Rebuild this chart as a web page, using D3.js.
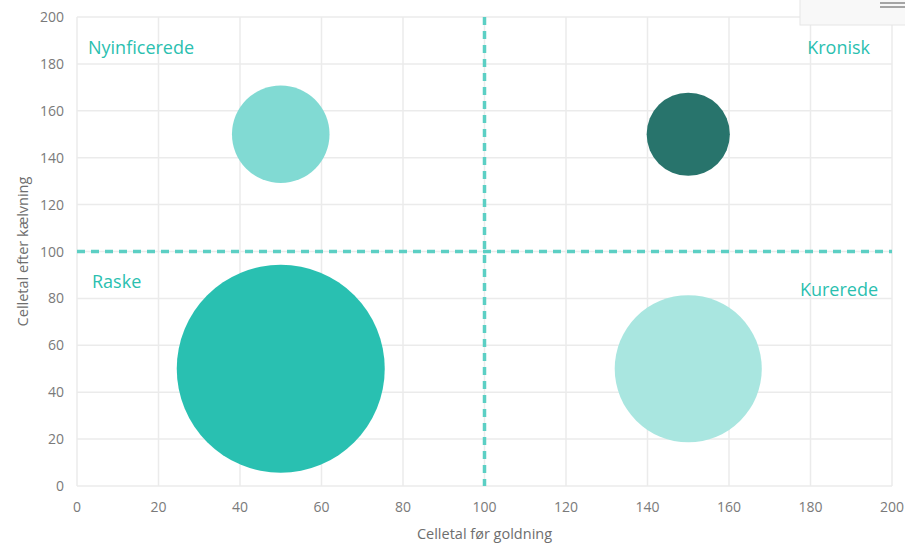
<!DOCTYPE html>
<html>
<head>
<meta charset="utf-8">
<script src="https://cdn.jsdelivr.net/npm/d3@7"></script>
<style>
  body { margin: 0; background: #fff; }
  text { font-family: "Open Sans", "Noto Sans", sans-serif; }
  .tick_labels { fill: #7a7a7a; font-size: 14px; }
  .axis_titles { fill: #6e6e6e; font-size: 14.5px; }
  .quad_labels { fill: #2bbfb0; font-size: 18px; }
</style>
</head>
<body>
<svg id="svg-bubbles" width="905" height="546"></svg>
<script>
var names = ["Nyinficerede", "Kronisk", "Raske", "Kurerede"];
var xValues = [50, 150, 50, 150];
var yValues = [150, 150, 50, 50];
var sizeValues = [22, 16, 100, 50];
var bubbleColors = ["#7dd9d2", "#216f67", "#22beae", "#a6e5df"];
var xTicks = [0, 20, 40, 60, 80, 100, 120, 140, 160, 180, 200];
var yTicks = [0, 20, 40, 60, 80, 100, 120, 140, 160, 180, 200];
var quadLabels = ["Nyinficerede", "Kronisk", "Raske", "Kurerede"];
var threshold = 100;

var svg = d3.select("#svg-bubbles");
var xScale = d3.scaleLinear().domain([0, 200]).range([77, 892]);
var yScale = d3.scaleLinear().domain([0, 200]).range([486, 17]);
var rScale = d3.scaleSqrt().domain([0, 100]).range([0, 104]);

// grid
svg.selectAll("xgrid")
    .data(xTicks)
    .enter()
    .append("line")
    .attr("x1", function(d) { return xScale(d); })
    .attr("x2", function(d) { return xScale(d); })
    .attr("y1", yScale(200))
    .attr("y2", yScale(0))
    .style("stroke", "#ebebeb")
    .style("stroke-width", 1.5);
svg.selectAll("ygrid")
    .data(yTicks)
    .enter()
    .append("line")
    .attr("x1", xScale(0))
    .attr("x2", xScale(200))
    .attr("y1", function(d) { return yScale(d); })
    .attr("y2", function(d) { return yScale(d); })
    .style("stroke", "#ebebeb")
    .style("stroke-width", 1.5);

// tick labels
svg.selectAll("xlabels")
    .data(xTicks)
    .enter()
    .append("text")
    .attr("class", "tick_labels")
    .attr("x", function(d) { return xScale(d); })
    .attr("y", 512)
    .style("text-anchor", "middle")
    .text(function(d) { return d; });
svg.selectAll("ylabels")
    .data(yTicks)
    .enter()
    .append("text")
    .attr("class", "tick_labels")
    .attr("x", 64)
    .attr("y", function(d) { return yScale(d) + 5; })
    .style("text-anchor", "end")
    .text(function(d) { return d; });

svg.append("text")
    .attr("class", "axis_titles")
    .attr("x", xScale(100))
    .attr("y", 539)
    .style("text-anchor", "middle")
    .text("Celletal før goldning");
svg.append("text")
    .attr("class", "axis_titles")
    .attr("transform", "translate(28," + yScale(100) + ") rotate(-90)")
    .style("text-anchor", "middle")
    .text("Celletal efter kælvning");

// bubbles
var data = names.map(function(n, i) {
  return {name: n, x: xValues[i], y: yValues[i], size: sizeValues[i], color: bubbleColors[i]};
});
svg.selectAll("bubbles")
    .data(data)
    .enter()
    .append("circle")
    .attr("cx", function(d) { return xScale(d.x); })
    .attr("cy", function(d) { return yScale(d.y); })
    .attr("r", function(d) { return rScale(d.size); })
    .style("fill", function(d) { return d.color; })
    .style("opacity", 0.97);

// threshold lines
svg.append("line")
    .attr("x1", xScale(threshold))
    .attr("x2", xScale(threshold))
    .attr("y1", yScale(200))
    .attr("y2", yScale(0))
    .style("stroke", "#5ccfc4")
    .style("stroke-width", 3.5)
    .style("stroke-dasharray", "8,6");
svg.append("line")
    .attr("x1", xScale(0))
    .attr("x2", xScale(200))
    .attr("y1", yScale(threshold))
    .attr("y2", yScale(threshold))
    .style("stroke", "#5ccfc4")
    .style("stroke-width", 3.5)
    .style("stroke-dasharray", "8,6");

// quadrant labels
var quadPos = [
  {x: 88, y: 54, anchor: "start"},
  {x: 870, y: 54, anchor: "end"},
  {x: 92, y: 288, anchor: "start"},
  {x: 878, y: 296, anchor: "end"}
];
svg.selectAll("quad_labels")
    .data(quadLabels)
    .enter()
    .append("text")
    .attr("class", "quad_labels")
    .attr("x", function(d, i) { return quadPos[i].x; })
    .attr("y", function(d, i) { return quadPos[i].y; })
    .style("text-anchor", function(d, i) { return quadPos[i].anchor; })
    .text(function(d) { return d; });

// menu box top right
svg.append("rect")
    .attr("x", 800)
    .attr("y", -1)
    .attr("width", 106)
    .attr("height", 26)
    .style("fill", "#f8f8f8")
    .style("stroke", "#e6e6e6");
svg.selectAll("menu_lines")
    .data([3, 7])
    .enter()
    .append("line")
    .attr("x1", 880)
    .attr("x2", 905)
    .attr("y1", function(d) { return d; })
    .attr("y2", function(d) { return d; })
    .style("stroke", "#8a8a8a")
    .style("stroke-width", 1.5);
</script>
</body>
</html>
